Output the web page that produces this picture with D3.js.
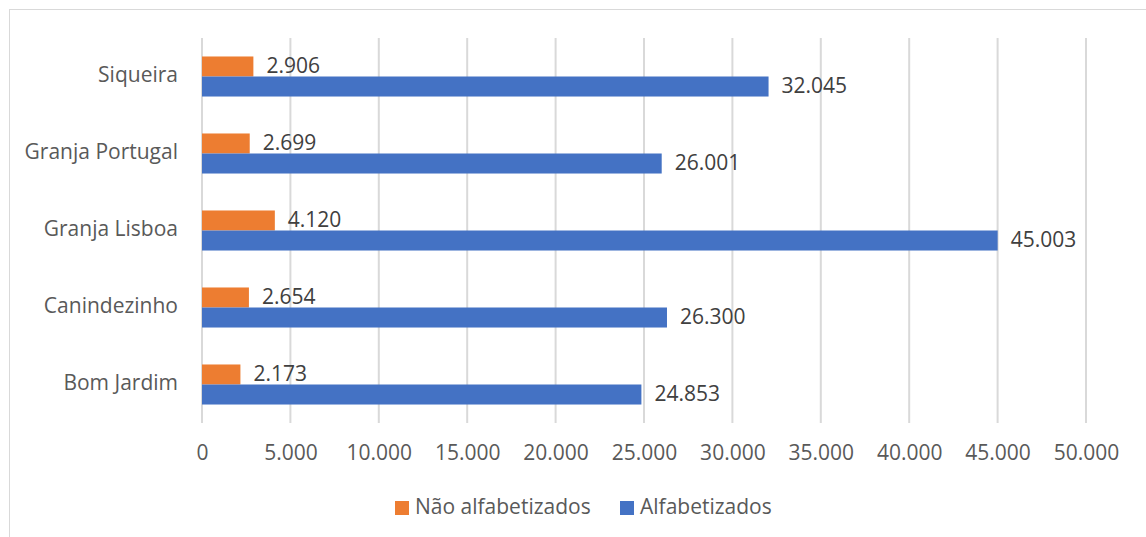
<!DOCTYPE html>
<html>
<head>
<meta charset="utf-8">
<script src="https://cdn.jsdelivr.net/npm/d3@7"></script>
<style>
  body { margin: 0; background: #fff; }
  svg text { font-family: "Open Sans", "Noto Sans", sans-serif; }
</style>
</head>
<body>
<div id="chart"></div>
<script>
// data, top category first as in the picture
var categories = ['Siqueira', 'Granja Portugal', 'Granja Lisboa', 'Canindezinho', 'Bom Jardim'];
var naoAlfabetizados = [2906, 2699, 4120, 2654, 2173];
var alfabetizados = [32045, 26001, 45003, 26300, 24853];
var seriesNames = ['Não alfabetizados', 'Alfabetizados'];
var xTicks = [0, 5000, 10000, 15000, 20000, 25000, 30000, 35000, 40000, 45000, 50000];

var W = 1146, H = 537;
var colors = ['#ED7D31', '#4472C4'];
var fs = '21px';

var svg = d3.select('#chart').append('svg').attr('width', W).attr('height', H);

// outer chart frame (runs off right/bottom edge like the source)
svg.append('rect').attr('x', 9.5).attr('y', 9.5).attr('width', 1300).attr('height', 700)
  .attr('fill', 'none').attr('stroke', '#D9D9D9').attr('stroke-width', 1);

var x = d3.scaleLinear().domain([0, 50000]).range([202, 1086]);
var y = d3.scaleBand().domain(categories).range([38, 423]).paddingInner(0.48).paddingOuter(0.24);
var ySub = d3.scaleBand().domain([0, 1]).range([0, y.bandwidth()]);

var fmt = d3.formatLocale({decimal: ',', thousands: '.', grouping: [3], currency: ['R$', '']}).format(',d');

// gridlines
svg.append('g').selectAll('line').data(xTicks).enter().append('line')
  .attr('x1', function(d){ return x(d); }).attr('x2', function(d){ return x(d); })
  .attr('y1', 38).attr('y2', 423)
  .attr('stroke', '#D9D9D9').attr('stroke-width', 2);

// x axis labels
var xAxis = d3.axisBottom(x).tickValues(xTicks).tickFormat(fmt).tickSize(0).tickPadding(0);
var gx = svg.append('g').attr('transform', 'translate(0,440)').call(xAxis);
gx.select('.domain').remove();
gx.selectAll('text').attr('fill', '#595959').attr('font-size', fs)
  .attr('dy', null).attr('y', 14).attr('dominant-baseline', 'middle');

// category labels
svg.append('g').selectAll('text').data(categories).enter().append('text')
  .attr('x', 178).attr('y', function(d){ return y(d) + y.bandwidth() / 2; })
  .attr('text-anchor', 'end').attr('dominant-baseline', 'middle')
  .attr('fill', '#595959').attr('font-size', fs)
  .text(function(d){ return d; });

// bars
var series = [naoAlfabetizados, alfabetizados];
series.forEach(function(vals, si){
  var g = svg.append('g');
  g.selectAll('rect').data(vals).enter().append('rect')
    .attr('x', x(0))
    .attr('y', function(d, i){ return y(categories[i]) + ySub(si); })
    .attr('width', function(d){ return x(d) - x(0); })
    .attr('height', ySub.bandwidth())
    .attr('fill', colors[si]);
  g.selectAll('text').data(vals).enter().append('text')
    .attr('x', function(d){ return x(d) + 13; })
    .attr('y', function(d, i){ return y(categories[i]) + ySub(si) + ySub.bandwidth() / 2 + 1; })
    .attr('dominant-baseline', 'middle')
    .attr('fill', '#404040').attr('font-size', fs)
    .text(function(d){ return fmt(d); });
});

// legend
var legX = [395, 620];
var leg = svg.append('g');
seriesNames.forEach(function(name, i){
  leg.append('rect').attr('x', legX[i]).attr('y', 501).attr('width', 14).attr('height', 14).attr('fill', colors[i]);
  leg.append('text').attr('x', legX[i] + 20).attr('y', 508).attr('dominant-baseline', 'middle')
    .attr('fill', '#595959').attr('font-size', fs).text(name);
});
</script>
</body>
</html>
